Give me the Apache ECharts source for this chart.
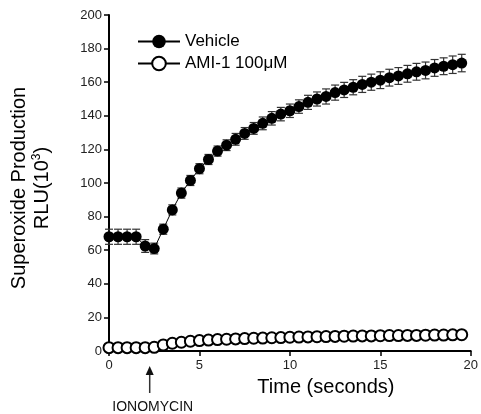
<!DOCTYPE html>
<html>
<head>
<meta charset="utf-8">
<script src="https://cdn.jsdelivr.net/npm/echarts@6/dist/echarts.min.js"></script>
<style>
  html, body { margin: 0; padding: 0; background: #fff; }
  #chart { width: 481px; height: 414px; }
</style>
</head>
<body>
<div id="chart"></div>
<script>
// time points, every 0.5 s
var timeSec = [0,0.5,1,1.5,2,2.5,3,3.5,4,4.5,5,5.5,6,6.5,7,7.5,8,8.5,9,9.5,
               10,10.5,11,11.5,12,12.5,13,13.5,14,14.5,15,15.5,16,16.5,17,17.5,18,18.5,19,19.5];
var vehicle = [68,68,68,68,62.5,61,72.5,84,94,101.5,108.5,114,119,122.5,126,129.5,132.5,135.5,138.5,141,
               143,145.5,148,150,151.5,153.8,155.4,157,158.7,160,161.2,162.7,163.7,165,166.2,167,168.5,169.5,170.4,171.4];
var vehicleErr = [4.5,4.5,4.5,4.5,3.8,3.2,3,3,3,3,3,3,3,3.2,3.5,3.5,3.5,3.8,4,4,
                  4,4,4.2,4.2,4.5,4.5,4.5,4.5,4.8,4.8,5,5,5,5,5,5,5,5,5.2,5.2];
var ami = [2,2,2,2,2,2.2,3.6,4.6,5.2,5.8,6.2,6.5,6.8,7,7.2,7.4,7.6,7.7,7.9,8,
           8.2,8.3,8.4,8.5,8.6,8.7,8.8,8.9,9,9,9.1,9.2,9.2,9.3,9.3,9.4,9.5,9.5,9.6,9.7];
var yTicks = {min: 0, max: 200, interval: 20};
var xTicks = {min: 0, max: 20, interval: 5};
var IONOMYCIN_T = 2.25;

var vehPts = [], amiPts = [], errPts = [];
for (var i = 0; i < timeSec.length; i++) {
    vehPts.push([timeSec[i], vehicle[i]]);
    amiPts.push([timeSec[i], ami[i]]);
    errPts.push([timeSec[i], vehicle[i] - vehicleErr[i], vehicle[i] + vehicleErr[i]]);
}

var font = 'Liberation Sans, Arial, sans-serif';
var chart = echarts.init(document.getElementById('chart'));

var option = {
    animation: false,
    textStyle: { fontFamily: font },
    grid: { left: 105, right: 9, top: 15, bottom: 63, containLabel: false },
    legend: {
        orient: 'vertical',
        left: 132, top: 28,
        itemWidth: 42, itemHeight: 17, itemGap: 5,
        textStyle: { fontSize: 17, color: '#000', fontFamily: font },
        data: ['Vehicle', 'AMI-1 100\u03bcM']
    },
    xAxis: {
        type: 'value',
        min: xTicks.min, max: xTicks.max, interval: xTicks.interval,
        splitLine: { show: false },
        axisLine: { onZero: false, lineStyle: { color: '#000', width: 2 } },
        axisTick: { length: 5, lineStyle: { color: '#000', width: 1.5 } },
        axisLabel: { color: '#222', fontSize: 13, margin: 8 },
        name: 'Time (seconds)',
        nameLocation: 'middle',
        nameGap: 26,
        nameTextStyle: { fontSize: 20, color: '#000', padding: [0, 0, 0, 72] }
    },
    yAxis: {
        type: 'value',
        min: yTicks.min, max: yTicks.max, interval: yTicks.interval,
        splitLine: { show: false },
        axisLine: { show: true, lineStyle: { color: '#000', width: 2 } },
        axisTick: { show: true, length: 5, lineStyle: { color: '#000', width: 1.5 } },
        axisLabel: { color: '#222', fontSize: 13, margin: 7 },
        name: 'Superoxide Production\nRLU(10{sup|3})',
        nameLocation: 'middle',
        nameRotate: 90,
        nameGap: 55,
        nameTextStyle: {
            fontSize: 20, color: '#000', lineHeight: 23, padding: [0, 10, 0, 0],
            rich: { sup: { fontSize: 12, verticalAlign: 'top', lineHeight: 23, padding: [0, 0, 9, 0] } }
        }
    },
    series: [
        {
            name: 'errbars',
            type: 'custom',
            z: 1,
            data: errPts,
            renderItem: function (params, api) {
                var x = api.value(0);
                var lo = api.coord([x, api.value(1)]);
                var hi = api.coord([x, api.value(2)]);
                var hw = 4;
                var st = { stroke: '#333', lineWidth: 1.2 };
                return {
                    type: 'group',
                    children: [
                        { type: 'line', shape: { x1: lo[0], y1: lo[1], x2: hi[0], y2: hi[1] }, style: st },
                        { type: 'line', shape: { x1: lo[0] - hw, y1: lo[1], x2: lo[0] + hw, y2: lo[1] }, style: st },
                        { type: 'line', shape: { x1: hi[0] - hw, y1: hi[1], x2: hi[0] + hw, y2: hi[1] }, style: st }
                    ]
                };
            }
        },
        {
            name: 'Vehicle',
            type: 'line',
            z: 3,
            data: vehPts,
            symbol: 'circle',
            symbolSize: 11,
            itemStyle: { color: '#000' },
            lineStyle: { color: '#000', width: 1 }
        },
        {
            name: 'AMI-1 100\u03bcM',
            type: 'line',
            z: 3,
            data: amiPts,
            symbol: 'circle',
            symbolSize: 11,
            itemStyle: { color: '#fff', borderColor: '#000', borderWidth: 2 },
            lineStyle: { color: '#000', width: 1 }
        }
    ]
};
chart.setOption(option);

// IONOMYCIN arrow below x-axis
var ax = chart.convertToPixel({ xAxisIndex: 0 }, IONOMYCIN_T);
var base = chart.convertToPixel({ yAxisIndex: 0 }, 0);
chart.setOption({
    graphic: [
        { type: 'line', shape: { x1: ax, y1: base + 22, x2: ax, y2: base + 42 },
          style: { stroke: '#333', lineWidth: 1.5 } },
        { type: 'polygon', shape: { points: [[ax, base + 15], [ax - 4, base + 24], [ax + 4, base + 24]] },
          style: { fill: '#111' } },
        { type: 'text', x: ax + 3, y: base + 56,
          style: { text: 'IONOMYCIN', font: '14px ' + font, fill: '#111', align: 'center', verticalAlign: 'middle' } }
    ]
});
</script>
</body>
</html>
